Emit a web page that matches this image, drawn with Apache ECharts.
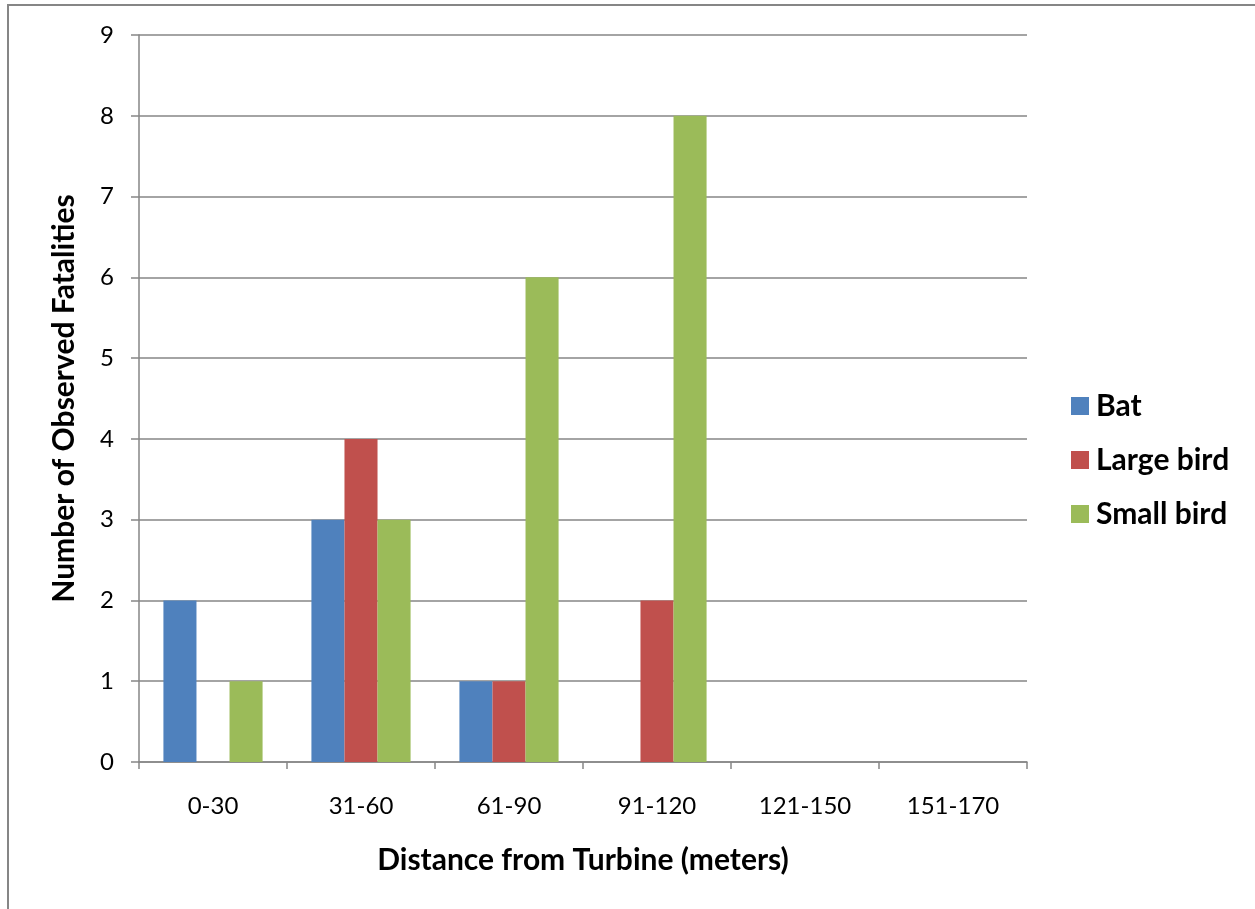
<!DOCTYPE html>
<html><head><meta charset="utf-8">
<script src="https://cdn.jsdelivr.net/npm/echarts@6/dist/echarts.min.js"></script>
<style>html,body{margin:0;padding:0;background:#fff}#c{width:1255px;height:909px}</style>
</head><body><div id="c"></div>
<script>
const categories = ['0-30','31-60','61-90','91-120','121-150','151-170'];
const bat = [2,3,1,0,0,0];
const largeBird = [0,4,1,2,0,0];
const smallBird = [1,3,6,8,0,0];
const yTicks = [0,1,2,3,4,5,6,7,8,9];

const FONT = 'Lato';
const chart = echarts.init(document.getElementById('c'), null, {renderer:'canvas'});
chart.setOption({
  animation:false,
  backgroundColor:'#fff',
  graphic:[{type:'rect',shape:{x:8,y:5,width:1400,height:1100},style:{fill:'none',stroke:'#868686',lineWidth:2},silent:true}],
  grid:{left:139,top:35,width:888,height:727,containLabel:false},
  legend:{
    orient:'vertical',left:1066,top:386,itemWidth:18,itemHeight:18,itemGap:24,
    icon:'rect',
    textStyle:{fontFamily:FONT,fontSize:30,fontWeight:'bold',color:'#000',padding:[0,0,0,2]},
    data:['Bat','Large bird','Small bird']
  },
  xAxis:{
    type:'category',data:categories,
    name:'Distance from Turbine (meters)',nameLocation:'middle',nameGap:83,
    nameTextStyle:{fontFamily:FONT,fontSize:30,fontWeight:'bold',color:'#000'},
    axisLine:{lineStyle:{color:'#868686',width:1.5}},
    axisTick:{show:true,length:7,alignWithLabel:false,lineStyle:{color:'#868686',width:1.5}},
    axisLabel:{fontFamily:FONT,fontSize:24,color:'#000',margin:32}
  },
  yAxis:{
    type:'value',min:0,max:9,interval:1,
    name:'Number of Observed Fatalities',nameLocation:'middle',nameGap:60,
    nameTextStyle:{fontFamily:FONT,fontSize:30,fontWeight:'bold',color:'#000'},
    axisLine:{show:true,lineStyle:{color:'#868686',width:1.5}},
    axisTick:{show:true,length:8,lineStyle:{color:'#868686',width:1.5}},
    splitLine:{lineStyle:{color:'#868686',width:1.5}},
    axisLabel:{fontFamily:FONT,fontSize:24,color:'#000',margin:25,
      formatter:(v)=>yTicks.includes(v)?String(v):''}
  },
  series:[
    {name:'Bat',type:'bar',data:bat,itemStyle:{color:'#4F81BD'},barGap:'0%',barCategoryGap:'33%'},
    {name:'Large bird',type:'bar',data:largeBird,itemStyle:{color:'#C0504D'},barGap:'0%',barCategoryGap:'33%'},
    {name:'Small bird',type:'bar',data:smallBird,itemStyle:{color:'#9BBB59'},barGap:'0%',barCategoryGap:'33%'}
  ]
});
</script></body></html>
